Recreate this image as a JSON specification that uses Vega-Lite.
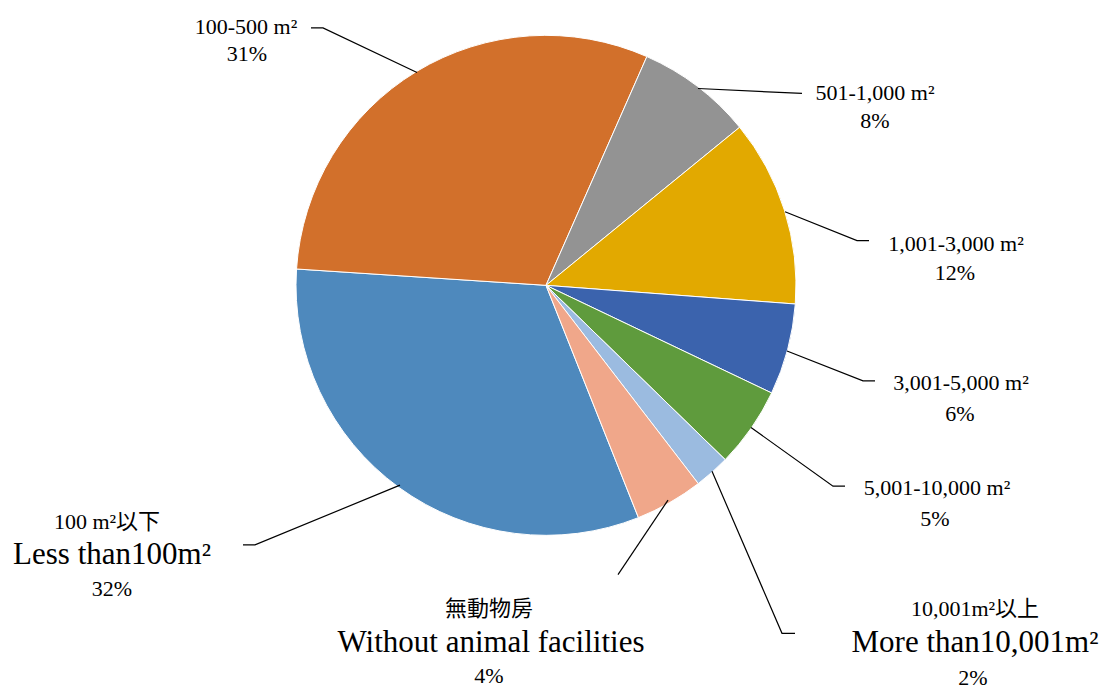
{
  "$schema": "https://vega.github.io/schema/vega-lite/v6.json",
  "width": 1106,
  "height": 689,
  "padding": 0,
  "autosize": {"type": "fit", "contains": "padding"},
  "background": "white",
  "config": {"view": {"stroke": null}},
  "datasets": {
    "slices": [
      {"idx": 0, "category": "Less than 100 m²", "share": 32.1},
      {"idx": 1, "category": "100-500 m²", "share": 30.6},
      {"idx": 2, "category": "501-1,000 m²", "share": 7.5},
      {"idx": 3, "category": "1,001-3,000 m²", "share": 12.1},
      {"idx": 4, "category": "3,001-5,000 m²", "share": 5.9},
      {"idx": 5, "category": "5,001-10,000 m²", "share": 5.2},
      {"idx": 6, "category": "More than 10,001 m²", "share": 2.3},
      {"idx": 7, "category": "Without animal facilities", "share": 4.4}
    ],
    "leaders": [
      {"label": "100-500", "pt": 0, "u": -0.516, "v": 0.856},
      {"label": "100-500", "pt": 1, "u": -0.892, "v": 1.036},
      {"label": "100-500", "pt": 2, "u": -0.94, "v": 1.036},
      {"label": "501-1000", "pt": 0, "u": 0.608, "v": 0.792},
      {"label": "501-1000", "pt": 1, "u": 1.024, "v": 0.772},
      {"label": "1001-3000", "pt": 0, "u": 0.956, "v": 0.296},
      {"label": "1001-3000", "pt": 1, "u": 1.244, "v": 0.18},
      {"label": "1001-3000", "pt": 2, "u": 1.292, "v": 0.18},
      {"label": "3001-5000", "pt": 0, "u": 0.964, "v": -0.264},
      {"label": "3001-5000", "pt": 1, "u": 1.268, "v": -0.384},
      {"label": "3001-5000", "pt": 2, "u": 1.316, "v": -0.384},
      {"label": "5001-10000", "pt": 0, "u": 0.82, "v": -0.572},
      {"label": "5001-10000", "pt": 1, "u": 1.148, "v": -0.808},
      {"label": "5001-10000", "pt": 2, "u": 1.196, "v": -0.808},
      {"label": "more10001", "pt": 0, "u": 0.664, "v": -0.748},
      {"label": "more10001", "pt": 1, "u": 0.944, "v": -1.4},
      {"label": "more10001", "pt": 2, "u": 0.996, "v": -1.4},
      {"label": "without", "pt": 0, "u": 0.488, "v": -0.864},
      {"label": "without", "pt": 1, "u": 0.288, "v": -1.164},
      {"label": "less100", "pt": 0, "u": -0.584, "v": -0.804},
      {"label": "less100", "pt": 1, "u": -1.164, "v": -1.044},
      {"label": "less100", "pt": 2, "u": -1.212, "v": -1.044}
    ],
    "labels": [
      {"kind": "sub", "text": "100-500 m²", "u": -1.2, "v": 1.04},
      {"kind": "sub", "text": "31%", "u": -1.196, "v": 0.932},
      {"kind": "sub", "text": "501-1,000 m²", "u": 1.316, "v": 0.772},
      {"kind": "sub", "text": "8%", "u": 1.316, "v": 0.66},
      {"kind": "sub", "text": "1,001-3,000 m²", "u": 1.64, "v": 0.168},
      {"kind": "sub", "text": "12%", "u": 1.636, "v": 0.048},
      {"kind": "sub", "text": "3,001-5,000 m²", "u": 1.66, "v": -0.392},
      {"kind": "sub", "text": "6%", "u": 1.656, "v": -0.516},
      {"kind": "sub", "text": "5,001-10,000 m²", "u": 1.564, "v": -0.816},
      {"kind": "sub", "text": "5%", "u": 1.556, "v": -0.94},
      {"kind": "sub", "text": "10,001m²以上", "u": 1.716, "v": -1.304},
      {"kind": "main", "text": "More than10,001m²", "u": 1.716, "v": -1.44},
      {"kind": "sub", "text": "2%", "u": 1.708, "v": -1.58},
      {"kind": "sub", "text": "無動物房", "u": -0.228, "v": -1.304},
      {"kind": "main", "text": "Without animal facilities", "u": -0.22, "v": -1.44},
      {"kind": "sub", "text": "4%", "u": -0.228, "v": -1.572},
      {"kind": "sub", "text": "100 m²以下", "u": -1.756, "v": -0.952},
      {"kind": "main", "text": "Less than100m²", "u": -1.736, "v": -1.084},
      {"kind": "sub", "text": "32%", "u": -1.736, "v": -1.22}
    ]
  },
  "layer": [
    {
      "data": {"name": "slices"},
      "mark": {"type": "arc", "outerRadius": 250, "stroke": "white", "strokeWidth": 1},
      "encoding": {
        "theta": {"field": "share", "type": "quantitative", "stack": true, "scale": {"range": [2.763, 9.046]}},
        "order": {"field": "idx", "type": "quantitative"},
        "color": {
          "field": "category",
          "type": "nominal",
          "legend": null,
          "scale": {
            "domain": ["Less than 100 m²", "100-500 m²", "501-1,000 m²", "1,001-3,000 m²", "3,001-5,000 m²", "5,001-10,000 m²", "More than 10,001 m²", "Without animal facilities"],
            "range": ["#4E89BD", "#D2702B", "#939393", "#E2A900", "#3B63AD", "#5F9B3D", "#9BBBE0", "#F0A78A"]
          }
        },
        "x": {"datum": 0, "type": "quantitative", "scale": {"domain": [-2.184, 2.24], "nice": false, "zero": false}, "axis": null},
        "y": {"datum": 0, "type": "quantitative", "scale": {"domain": [-1.608, 1.148], "nice": false, "zero": false}, "axis": null}
      }
    },
    {
      "data": {"name": "leaders"},
      "mark": {"type": "line", "color": "black", "strokeWidth": 1.2},
      "encoding": {
        "x": {"field": "u", "type": "quantitative", "axis": null},
        "y": {"field": "v", "type": "quantitative", "axis": null},
        "detail": {"field": "label", "type": "nominal"},
        "order": {"field": "pt", "type": "quantitative"}
      }
    },
    {
      "data": {"name": "labels"},
      "transform": [{"filter": "datum.kind === 'sub'"}],
      "mark": {"type": "text", "font": "'Liberation Serif', 'Noto Sans CJK TC', serif", "fontSize": 22, "align": "center", "baseline": "middle", "color": "black"},
      "encoding": {
        "x": {"field": "u", "type": "quantitative", "axis": null},
        "y": {"field": "v", "type": "quantitative", "axis": null},
        "text": {"field": "text", "type": "nominal"}
      }
    },
    {
      "data": {"name": "labels"},
      "transform": [{"filter": "datum.kind === 'main'"}],
      "mark": {"type": "text", "font": "'Liberation Serif', 'Noto Sans CJK TC', serif", "fontSize": 31, "align": "center", "baseline": "middle", "color": "black"},
      "encoding": {
        "x": {"field": "u", "type": "quantitative", "axis": null},
        "y": {"field": "v", "type": "quantitative", "axis": null},
        "text": {"field": "text", "type": "nominal"}
      }
    }
  ]
}
